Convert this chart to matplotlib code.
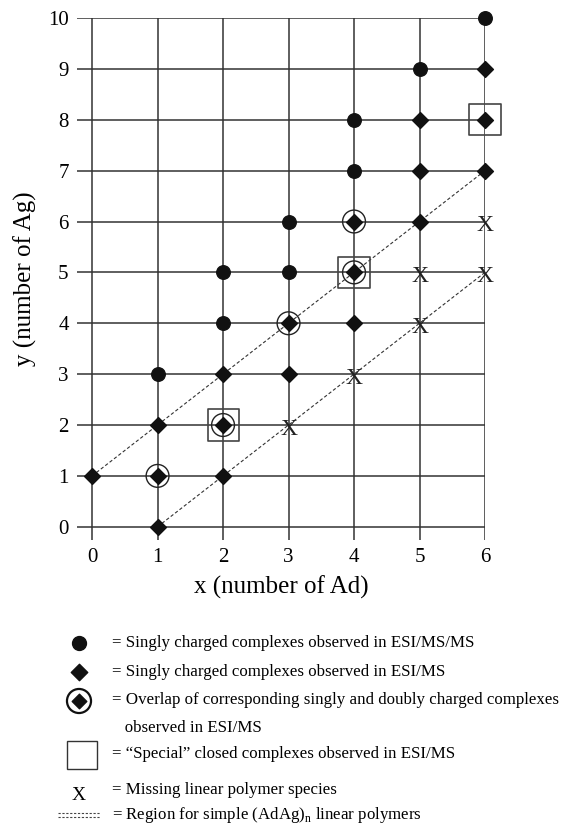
import matplotlib
matplotlib.use("Agg")
import matplotlib.pyplot as plt

plt.rcParams['font.family'] = ['Liberation Serif', 'DejaVu Serif']

# singly charged, ESI/MS/MS
circle_x = [1, 2, 2, 3, 3, 4, 4, 5, 6]
circle_y = [3, 4, 5, 5, 6, 7, 8, 9, 10]
# singly charged, ESI/MS
diamond_x = [0, 1, 1, 1, 2, 2, 2, 3, 3, 4, 4, 4, 5, 5, 5, 6, 6, 6]
diamond_y = [1, 0, 1, 2, 1, 2, 3, 3, 4, 4, 5, 6, 6, 7, 8, 7, 8, 9]
# overlap of singly and doubly charged
overlap_x = [1, 2, 3, 4, 4]
overlap_y = [1, 2, 4, 5, 6]
# "special" closed complexes
special_x = [2, 4, 6]
special_y = [2, 5, 8]
# missing linear polymer species
missing_x = [3, 4, 5, 5, 6, 6]
missing_y = [2, 3, 4, 5, 5, 6]
# (AdAg)n linear polymer region bounds
upper_x = [0, 6]
upper_y = [1, 7]
lower_x = [1, 6]
lower_y = [0, 5]

legend_labels = [
    "= Singly charged complexes observed in ESI/MS/MS",
    "= Singly charged complexes observed in ESI/MS",
    "= Overlap of corresponding singly and doubly charged complexes",
    "   observed in ESI/MS",
    "= \u201cSpecial\u201d closed complexes observed in ESI/MS",
    "= Missing linear polymer species",
    "= Region for simple (AdAg)$_\\mathregular{n}$ linear polymers",
]

W, H = 578, 836
fig = plt.figure(figsize=(W / 100, H / 100), dpi=100)
ax = fig.add_axes([77 / W, 1 - 540 / H, (485 - 77) / W, (540 - 18) / H])

ax.set_xlim(-0.23, 6)
ax.set_ylim(-0.26, 10)
for s in ax.spines.values():
    s.set_visible(False)
ax.set_xticks(range(0, 7))
ax.set_yticks(range(0, 11))
ax.tick_params(length=0, labelsize=15, pad=6)
ax.grid(True, color='#333333', linewidth=1.1)
ax.set_axisbelow(True)

ax.plot(upper_x, upper_y, ls=(0, (3, 2)), color='#333333', lw=0.8, zorder=2)
ax.plot(lower_x, lower_y, ls=(0, (3, 2)), color='#333333', lw=0.8, zorder=2)

ax.scatter(circle_x, circle_y, marker='o', s=95, color='#111111', zorder=4, clip_on=False)
ax.scatter(diamond_x, diamond_y, marker='D', s=65, color='#111111', zorder=4, clip_on=False)
ax.scatter(overlap_x, overlap_y, marker='o', s=270, facecolor='none', edgecolor='#222222',
           linewidth=1.0, zorder=3, clip_on=False)
ax.scatter(special_x, special_y, marker='s', s=500, facecolor='none', edgecolor='#444444',
           linewidth=1.2, zorder=3, clip_on=False)
for mx, my in zip(missing_x, missing_y):
    ax.text(mx, my - 0.08, "X", fontsize=17, ha='center', va='center', color='#222222', zorder=5)

ax.set_xlabel("x (number of Ad)", fontsize=18, labelpad=6)
ax.set_ylabel("y (number of Ag)", fontsize=18, labelpad=8)

# legend area in pixel coordinates
lg = fig.add_axes([0, 0, 1, 1])
lg.set_xlim(0, W)
lg.set_ylim(H, 0)
lg.axis('off')
mx = 79
lg.scatter([mx], [643], marker='o', s=100, color='#111111')
lg.scatter([mx], [672], marker='D', s=70, color='#111111')
lg.scatter([mx], [701], marker='D', s=55, color='#111111')
lg.scatter([mx], [701], marker='o', s=300, facecolor='none', edgecolor='#111111', linewidth=1.6)
lg.add_patch(plt.Rectangle((67, 741), 30, 28, fill=False, edgecolor='#333333', lw=1.0))
lg.text(mx, 795, "X", fontsize=14, ha='center', va='center')
lg.plot([58, 100], [813, 813], ls=(0, (2, 1.5)), color='#444444', lw=0.8)
lg.plot([58, 100], [817, 817], ls=(0, (2, 1.5)), color='#444444', lw=0.8)

text_y = [643, 672, 700, 728, 754, 790, 815]
for ty, lab in zip(text_y, legend_labels):
    lg.text(112, ty, lab, fontsize=12.2, ha='left', va='center')

fig.savefig("out.png", dpi=100)
